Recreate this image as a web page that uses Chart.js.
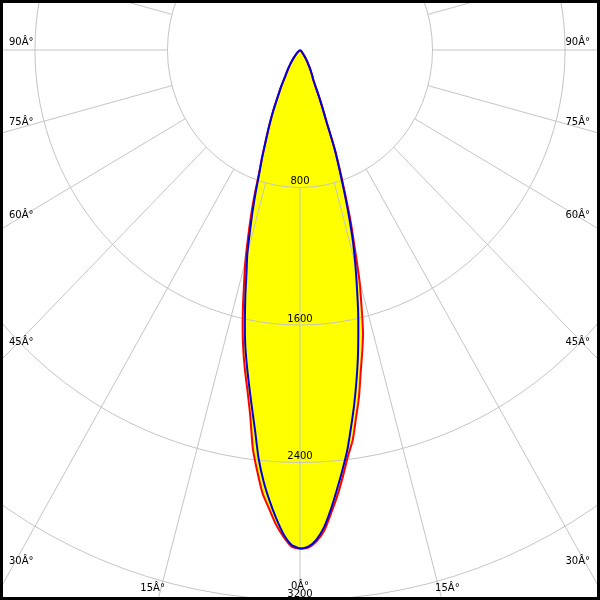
<!DOCTYPE html>
<html><head><meta charset="utf-8">
<script src="https://cdn.jsdelivr.net/npm/chart.js@4"></script>
<style>html,body{margin:0;padding:0;background:#fff;overflow:hidden}canvas{display:block}</style>
</head><body>
<canvas id="c" width="600" height="600"></canvas>
<script>
// gamma angles (degrees from nadir)
const angles = [0,1,2,3,4,5,6,7,8,9,10,11,12,13,14,15,16,17,18,19,20,21,22,23,24,25,26,28,30,33,36,40,50,60,90];
// C0 plane (right half of red curve)
const c0   = [2900,2895,2860,2800,2700,2600,2490,2380,2290,2164,2050,1917,1804,1692,1535,1385,1200,1050,885,740,612,445,360,290,225,185,172,140,112,80,55,30,10,0,0];
// C180 plane (left half of red curve)
const c180 = [2900,2890,2835,2765,2675,2590,2466,2336,2155,2018,1905,1790,1665,1530,1395,1275,1140,1015,890,760,675,595,530,472,418,365,315,245,180,130,95,55,15,0,0];
// C90 plane (right half of blue curve)
const c90  = [2900,2890,2850,2780,2678,2565,2455,2345,2215,2090,1960,1830,1693,1560,1420,1290,1160,1010,860,725,605,445,360,290,225,185,172,140,112,80,55,30,10,0,0];
// C270 plane (left half of blue curve)
const c270 = [2900,2880,2820,2730,2630,2520,2390,2228,2093,1969,1853,1735,1600,1467,1335,1229,1096,977,861,750,672,593,528,472,418,365,315,245,185,135,98,58,15,0,0];

const rings = [800,1600,2400,3200];
const ringLabels = ['800','1600','2400','3200'];
const spokeStep = 15;
const angleTicks = [0,15,30,45,60,75,90];
const angleTickLabels = ['0Â°','15Â°','30Â°','45Â°','60Â°','75Â°','90Â°'];

function curve(leftVals, rightVals) {
  const pts = [];
  for (let i = angles.length - 1; i >= 0; i--) {
    const a = angles[i] * Math.PI / 180;
    pts.push({x: -leftVals[i] * Math.sin(a), y: -leftVals[i] * Math.cos(a)});
  }
  for (let i = 1; i < angles.length; i++) {
    const a = angles[i] * Math.PI / 180;
    pts.push({x: rightVals[i] * Math.sin(a), y: -rightVals[i] * Math.cos(a)});
  }
  return pts;
}

const FONT = '10px "DejaVu Sans"';

const gridPlugin = {
  id: 'polarGrid',
  beforeDatasetsDraw(chart) {
    const {ctx, scales: {x, y}, width: W, height: H} = chart;
    const cx = x.getPixelForValue(0), cy = y.getPixelForValue(0);
    ctx.save();
    ctx.strokeStyle = '#c4c4c4';
    ctx.lineWidth = 1;
    rings.forEach(r => {
      const rx = x.getPixelForValue(r) - cx;
      const ry = cy - y.getPixelForValue(r);
      ctx.beginPath();
      ctx.ellipse(cx, cy, rx, ry, 0, 0, Math.PI * 2);
      ctx.stroke();
    });
    const r0 = rings[0], r1 = rings[rings.length - 1] * 3;
    for (let a = 0; a < 360; a += spokeStep) {
      const t = a * Math.PI / 180;
      ctx.beginPath();
      ctx.moveTo(x.getPixelForValue(r0 * Math.sin(t)), y.getPixelForValue(-r0 * Math.cos(t)));
      ctx.lineTo(x.getPixelForValue(r1 * Math.sin(t)), y.getPixelForValue(-r1 * Math.cos(t)));
      ctx.stroke();
    }
    ctx.fillStyle = '#000';
    ctx.font = FONT;
    ctx.textBaseline = 'middle';
    ctx.textAlign = 'center';
    rings.forEach((r, i) => {
      ctx.fillText(ringLabels[i], cx, y.getPixelForValue(-r) - 6);
    });
    angleTicks.forEach((a, i) => {
      const txt = angleTickLabels[i];
      const t = a * Math.PI / 180;
      if (a === 0) {
        ctx.textAlign = 'center';
        ctx.fillText(txt, cx, H - 14);
        return;
      }
      const ySide = cy + cx / Math.tan(t) - 8;
      if (ySide < H - 25) {
        ctx.textAlign = 'left';
        ctx.fillText(txt, 9, ySide);
        ctx.textAlign = 'right';
        ctx.fillText(txt, W - 10, ySide);
      } else {
        const dx = (H - cy) * Math.tan(t);
        ctx.textAlign = 'center';
        ctx.fillText(txt, cx - dx, H - 12);
        ctx.fillText(txt, cx + dx, H - 12);
      }
    });
    ctx.restore();
  },
  afterDraw(chart) {
    const {ctx, width: W, height: H} = chart;
    ctx.save();
    ctx.strokeStyle = '#000';
    ctx.lineWidth = 6;
    ctx.strokeRect(0, 0, W, H);
    ctx.restore();
  }
};

new Chart(document.getElementById('c'), {
  type: 'scatter',
  data: {
    datasets: [
      {label: 'C0-C180', data: curve(c180, c0), showLine: true, borderColor: '#ff0000', backgroundColor: '#ffff00', fill: 'shape', borderWidth: 2, pointRadius: 0, tension: 0.2, order: 2},
      {label: 'C90-C270', data: curve(c270, c90), showLine: true, borderColor: '#0000dd', backgroundColor: '#ffff00', fill: 'shape', borderWidth: 2, pointRadius: 0, tension: 0.2, order: 1}
    ]
  },
  options: {
    responsive: false,
    animation: false,
    events: [],
    layout: {padding: 0},
    scales: {
      x: {display: false, min: -1811, max: 1811, bounds: 'data'},
      y: {display: false, min: -3200, max: 291, bounds: 'data'}
    },
    plugins: {
      legend: {display: false},
      tooltip: {enabled: false},
      filler: {drawTime: 'beforeDraw'}
    }
  },
  plugins: [gridPlugin]
});
</script>
</body></html>
